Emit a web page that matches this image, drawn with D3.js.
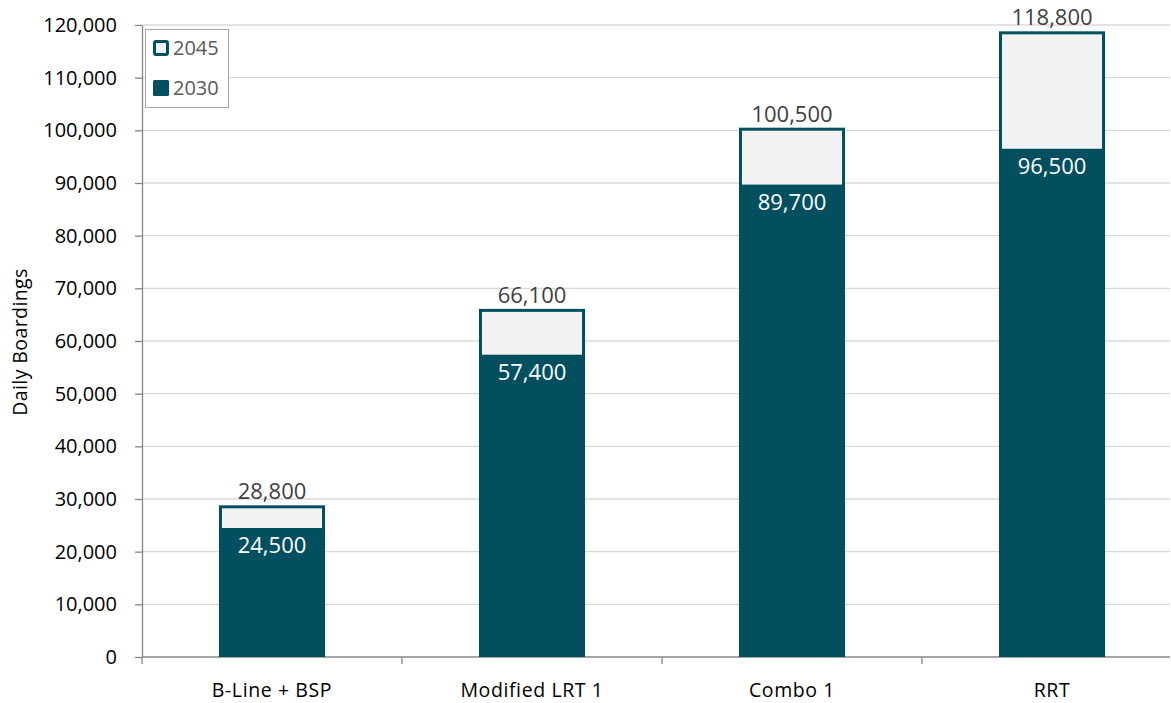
<!DOCTYPE html>
<html><head><meta charset="utf-8">
<script src="https://cdn.jsdelivr.net/npm/d3@7"></script>
<style>body{margin:0;background:#fff}svg{display:block}</style>
</head><body>
<svg id="c" width="1171" height="703"></svg>
<script>
const categories = ["B-Line + BSP", "Modified LRT 1", "Combo 1", "RRT"];
const values2030 = [24500, 57400, 89700, 96500];
const values2045 = [28800, 66100, 100500, 118800];
const yTicks = [0,10000,20000,30000,40000,50000,60000,70000,80000,90000,100000,110000,120000];
const seriesNames = ["2045", "2030"];

const W = 1171, H = 703;
const m = {l:142, t:25, b:46};
const plotRight = 1170;
const svg = d3.select("#c");
const font = "'Open Sans', sans-serif";
const teal = "#02505f";
const xb = d3.scaleBand().domain(categories).range([m.l, m.l + 4*260]);
const x = d3.scaleBand().domain(categories).range([m.l, m.l + 4*260]).paddingInner(0.592).paddingOuter(0.296);
const y = d3.scaleLinear().domain([0,120000]).range([H - m.b, m.t]);

// gridlines
svg.append("g").selectAll("line").data(yTicks.slice(1)).join("line")
  .attr("x1", m.l).attr("x2", plotRight).attr("y1", d=>y(d)).attr("y2", d=>y(d))
  .attr("stroke", "#d9d9d9").attr("stroke-width", 1.3);

// y axis
const ya = svg.append("g").attr("transform", `translate(${m.l},0)`)
  .call(d3.axisLeft(y).tickValues(yTicks).tickSize(7).tickSizeOuter(0).tickPadding(18).tickFormat(d3.format(",")));
ya.select(".domain").attr("stroke", "#868686").attr("stroke-width", 1.3);
ya.selectAll(".tick line").attr("stroke", "#868686").attr("stroke-width", 1.3);
ya.selectAll("text").attr("font-family", font).attr("font-size", 20).attr("fill", "#000");

// x axis
const xa = svg.append("g").attr("transform", `translate(0,${y(0)})`);
xa.append("line").attr("x1", m.l).attr("x2", plotRight).attr("stroke", "#868686").attr("stroke-width", 1.3);
const bounds = categories.map(c => xb(c)).filter(d => d <= plotRight);
xa.selectAll(".tk").data(bounds).join("line").attr("class","tk")
  .attr("x1", d=>d).attr("x2", d=>d).attr("y1", 0).attr("y2", 7)
  .attr("stroke", "#868686").attr("stroke-width", 1.3);
xa.selectAll(".lbl").data(categories).join("text").attr("class","lbl")
  .attr("x", d => xb(d) + xb.bandwidth()/2).attr("y", 40)
  .attr("text-anchor", "middle").attr("font-family", font).attr("font-size", 19.5)
  .attr("letter-spacing", 0.6).attr("fill", "#000")
  .text(d=>d);

// bars
const g = svg.append("g");
categories.forEach((c,i) => {
  const bx = x(c), bw = x.bandwidth();
  g.append("rect").attr("x", bx).attr("y", y(values2030[i])).attr("width", bw)
    .attr("height", y(0) - y(values2030[i])).attr("fill", teal);
  g.append("rect").attr("x", bx + 1.5).attr("y", y(values2045[i]) + 1.5).attr("width", bw - 3)
    .attr("height", y(values2030[i]) - y(values2045[i])).attr("fill", "#f2f2f2")
    .attr("stroke", teal).attr("stroke-width", 3);
  g.append("text").attr("x", bx + bw/2).attr("y", y(values2045[i]) - 6)
    .attr("text-anchor","middle").attr("font-family", font).attr("font-size", 22).attr("fill","#404040")
    .text(d3.format(",")(values2045[i]));
  g.append("text").attr("x", bx + bw/2).attr("y", y(values2030[i]) + 25)
    .attr("text-anchor","middle").attr("font-family", font).attr("font-size", 22).attr("fill","#fff")
    .text(d3.format(",")(values2030[i]));
});

// y title
svg.append("text").attr("transform", `translate(27,${(m.t + H - m.b)/2 + 1}) rotate(-90)`)
  .attr("text-anchor","middle").attr("font-family", font).attr("font-size", 19.5).attr("letter-spacing", 0.4).attr("fill","#000")
  .text("Daily Boardings");

// legend
const lg = svg.append("g");
lg.append("rect").attr("x", 145.5).attr("y", 29.5).attr("width", 83).attr("height", 78)
  .attr("fill", "#fff").attr("stroke", "#a6a6a6").attr("stroke-width", 1);
seriesNames.forEach((s,i) => {
  const yy = 48 + i*40;
  if (s === "2045") {
    lg.append("rect").attr("x", 154.5).attr("y", yy - 6.5).attr("width", 13).attr("height", 13)
      .attr("fill", "#f2f2f2").attr("stroke", teal).attr("stroke-width", 3).attr("rx", 1.5);
  } else {
    lg.append("rect").attr("x", 153).attr("y", yy - 8).attr("width", 16).attr("height", 16)
      .attr("fill", teal).attr("rx", 1.5);
  }
  lg.append("text").attr("x", 173).attr("y", yy + 7).attr("font-family", font).attr("font-size", 20)
    .attr("fill", "#595959").text(s);
});
</script>
</body></html>
